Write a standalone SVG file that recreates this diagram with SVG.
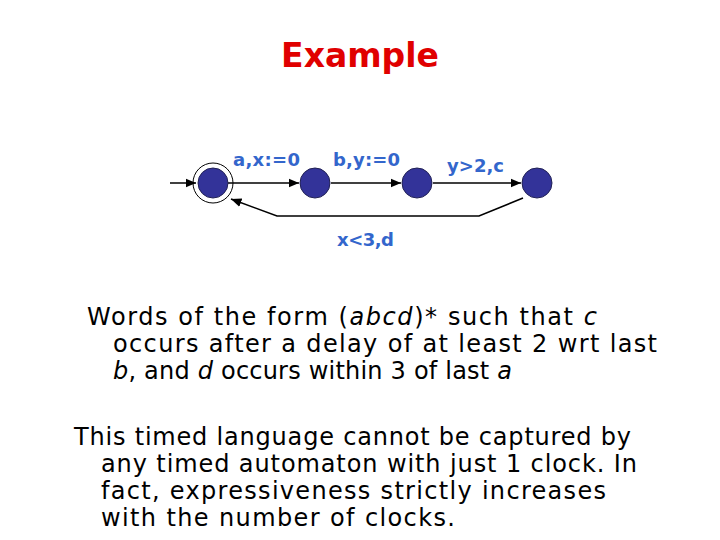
<svg xmlns="http://www.w3.org/2000/svg" width="720" height="540" viewBox="0 0 720 540">
<style>
.n{fill:#333399;stroke:#222255;stroke-width:1}
.l{font-family:"DejaVu Sans",sans-serif;font-size:18px;fill:#3366cc;font-weight:bold}
.b{font-family:"DejaVu Sans",sans-serif;font-size:24px;fill:#000}
.e{stroke:#000;stroke-width:1.5;fill:none}
</style>
<defs><marker id="a" markerWidth="8" markerHeight="8" refX="7" refY="4" orient="auto"><path d="M0,1L7,4L0,7z" fill="#000"/></marker></defs>
<rect width="720" height="540" fill="#fff"/>
<text x="360" y="67" text-anchor="middle" font-family="DejaVu Sans,sans-serif" font-weight="bold" font-size="33" fill="#e00000">Example</text>
<g id="edges">
<line class="e" x1="170" y1="183" x2="196" y2="183" marker-end="url(#a)"/>
<line class="e" x1="228" y1="183" x2="299" y2="183" marker-end="url(#a)"/>
<line class="e" x1="331" y1="183" x2="401" y2="183" marker-end="url(#a)"/>
<line class="e" x1="433" y1="183" x2="521" y2="183" marker-end="url(#a)"/>
<polyline class="e" stroke-width="1" points="523,198 479,216 277,216 231,199" marker-end="url(#a)"/>
</g>
<g id="s0"><circle cx="213" cy="183" r="20" fill="none" stroke="#000" stroke-width="1"/><circle class="n" cx="213" cy="183" r="15"/></g>
<g id="s1"><circle class="n" cx="315" cy="183" r="15"/></g>
<g id="s2"><circle class="n" cx="417" cy="183" r="15"/></g>
<g id="s3"><circle class="n" cx="537" cy="183" r="15"/></g>
<text class="l" x="233" y="166" textLength="67">a,x:=0</text>
<text class="l" x="333" y="166" textLength="67">b,y:=0</text>
<text class="l" x="447" y="172" textLength="57">y&gt;2,c</text>
<text class="l" x="337" y="246" textLength="57">x&lt;3,d</text>
<text class="b" x="87" y="325" textLength="510">Words of the form (<tspan font-style="italic">abcd</tspan>)* such that <tspan font-style="italic">c</tspan></text>
<text class="b" x="113" y="352" textLength="544">occurs after a delay of at least 2 wrt last</text>
<text class="b" x="113" y="379" textLength="399"><tspan font-style="italic">b</tspan>, and <tspan font-style="italic">d</tspan> occurs within 3 of last <tspan font-style="italic">a</tspan></text>
<text class="b" x="74" y="445" textLength="557">This timed language cannot be captured by</text>
<text class="b" x="101" y="472" textLength="536">any timed automaton with just 1 clock. In</text>
<text class="b" x="101" y="499" textLength="505">fact, expressiveness strictly increases</text>
<text class="b" x="101" y="526" textLength="354">with the number of clocks.</text>
</svg>
